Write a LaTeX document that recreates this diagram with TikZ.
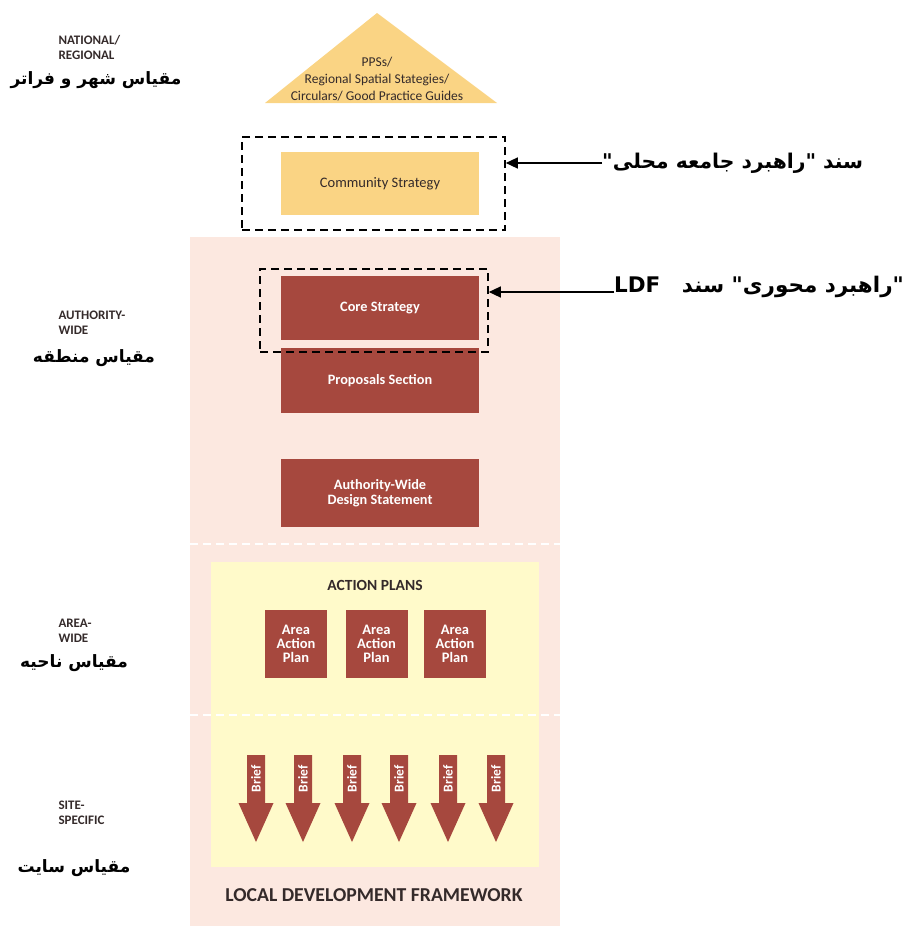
\documentclass[tikz,border=0pt]{standalone}
\usepackage{fontspec}
\setmainfont{Carlito}
\newfontfamily\farsi[Script=Arabic]{DejaVu Sans}
\TeXXeTstate=1
\usetikzlibrary{arrows.meta}
\definecolor{ldfpink}{RGB}{252,232,224}
\definecolor{ldfyellow}{RGB}{255,250,202}
\definecolor{ldforange}{RGB}{250,212,132}
\definecolor{ldfred}{RGB}{166,72,62}
\definecolor{ldftext}{RGB}{52,42,42}

\begin{document}
\begin{tikzpicture}[x=1pt, y=-1pt,
    redbox/.style={fill=ldfred, minimum width=198pt, inner sep=0pt, align=center,
      text=white, font=\fontsize{14.3}{15}\selectfont\bfseries},
    areabox/.style={fill=ldfred, minimum width=62pt, minimum height=68pt, inner sep=0pt,
      align=center, text=white, font=\fontsize{14.5}{14}\selectfont\bfseries},
    frame/.style={draw=black, line width=1.6pt, dash pattern=on 8pt off 5pt, inner sep=0pt},
    level/.style={anchor=west, align=left, text=ldftext, font=\fontsize{13}{15}\selectfont\bfseries},
    fa/.style={font=\farsi\bfseries\fontsize{17}{20}\selectfont},
    pointer/.style={line width=1.3pt, -{Triangle[length=12pt,width=11pt]}},
    split/.style={draw=white, line width=1.5pt, dash pattern=on 8pt off 5pt}
  ]
  \useasboundingbox (0,0) rectangle (910,926);

  % national / regional
  \fill[ldforange] (377,13) -- (497,103) -- (265,103) -- cycle;
  \node[align=center, text=ldftext, font=\fontsize{13.5}{17}\selectfont] (pps) at (377,79)
    {PPSs/\\Regional Spatial Stategies/\\Circulars/ Good Practice Guides};
  \node[fill=ldforange, minimum width=198pt, minimum height=63pt, text=ldftext,
    font=\fontsize{14.5}{16}\selectfont] (comm) at (380,183.5) {Community Strategy};
  \node[frame, minimum width=263pt, minimum height=93pt] (commframe) at (373.5,183.5) {};

  % local development framework
  \fill[ldfpink] (190,237) rectangle (560,926);
  \node[redbox, minimum height=64pt] (core) at (380,308) {Core Strategy};
  \node[redbox, minimum height=65pt] (prop) at (380,380.5) {Proposals Section};
  \node[redbox, minimum height=68pt] (design) at (380,493) {Authority-Wide\\Design Statement};
  \node[frame, minimum width=228pt, minimum height=83pt] (coreframe) at (374,310.5) {};
  \draw[split] (190,544) -- (560,544);

  \fill[ldfyellow] (211,562) rectangle (539,867);
  \node[text=ldftext, font=\fontsize{15.5}{17}\selectfont\bfseries] (actions) at (375,585) {ACTION PLANS};
  \foreach \x/\n in {296/1, 376.5/2, 455/3} {
    \node[areabox] (aap\n) at (\x,644) {Area\\Action\\Plan};
  }
  \draw[split] (190,715) -- (560,715);

  \foreach \x/\n in {256/1, 303/2, 352/3, 399/4, 448/5, 496/6} {
    \fill[ldfred] (\x-9,755) -- (\x+9,755) -- (\x+9,803) -- (\x+17.5,803)
      -- (\x,842) -- (\x-17.5,803) -- (\x-9,803) -- cycle;
    \node[rotate=90, text=white, font=\fontsize{13.5}{14}\selectfont\bfseries] (brief\n) at (\x,779) {Brief};
  }
  \node[text=ldftext, font=\fontsize{19.7}{21}\selectfont\bfseries] (ldf) at (374,895)
    {LOCAL DEVELOPMENT FRAMEWORK};

  % scale labels
  \node[level] (nat) at (55,47) {NATIONAL/\\REGIONAL};
  \node[fa] (natfa) at (96,80) {\beginR مقیاس شهر و فراتر\endR};
  \node[level] (auth) at (55,323) {AUTHORITY-\\WIDE};
  \node[fa] (authfa) at (94,358) {\beginR مقیاس منطقه\endR};
  \node[level] (area) at (55,631) {AREA-\\WIDE};
  \node[fa] (areafa) at (74,663) {\beginR مقیاس ناحیه\endR};
  \node[level] (site) at (55,813) {SITE-\\SPECIFIC};
  \node[fa] (sitefa) at (74,868) {\beginR مقیاس سایت\endR};

  % pointers
  \node[fa, anchor=west, inner sep=0pt, font=\farsi\bfseries\fontsize{20.3}{22}\selectfont] (commnote) at (602,163)
    {\beginR سند "راهبرد جامعه محلی"\endR};
  \node[fa, anchor=west, inner sep=0pt, font=\farsi\bfseries\fontsize{21.5}{22}\selectfont] (corenote) at (614,287)
    {\beginR "راهبرد محوری" سند\quad\beginL LDF\endL\endR};
  \draw[pointer] (commnote.west) -- (commnote.west -| commframe.east);
  \draw[pointer] ([yshift=-5pt]corenote.west) -- ([yshift=-5pt]corenote.west -| coreframe.east);
\end{tikzpicture}
\end{document}
